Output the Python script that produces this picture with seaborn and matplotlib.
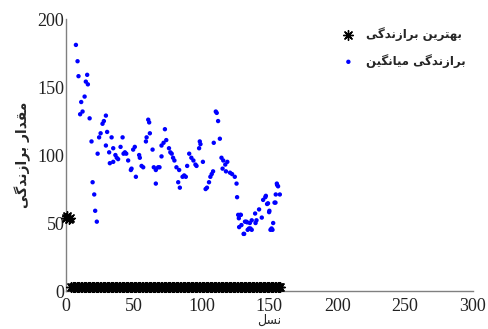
import numpy as np
import pandas as pd
import seaborn as sns
import matplotlib
matplotlib.use("Agg")
import matplotlib.pyplot as plt

# ---------------- data ----------------
avg_gen = [7.4, 8.6, 9.3, 10.5, 11.3, 12.3, 13.8, 14.7, 15.7, 16.2, 17.5, 18.9, 19.7, 20.9,
           21.6, 22.8, 23.4, 24.5, 25.6, 27, 28, 29.5, 29.5, 30.4, 31.9, 32.4, 33.7, 34.9,
           34.9, 36.5, 37.5, 38.5, 40.3, 41.8, 42.5, 43.5, 44.5, 45.9, 47.9, 48.4, 49.6,
           50.8, 51.6, 54, 54.5, 55.8, 57, 59, 59.5, 60.7, 61.4, 61.9, 63.9, 64.8, 66.3,
           66.3, 68, 69, 70.5, 70.5, 72, 73, 74, 76, 77, 78, 79, 80, 81.5, 83.5, 82.8, 84,
           86, 87.2, 88.4, 89.4, 90.9, 92.5, 94, 95.5, 96.3, 98.2, 98.7, 99.2, 101, 103,
           104, 105.5, 106.5, 107.5, 108.5, 109, 110.5, 111.2, 112.2, 113.5, 114.7, 116,
           117.5, 119, 115.5, 118, 121, 122.5, 124.5, 125.8, 126.2, 127, 127.5, 128.5, 129,
           127.7, 129.4, 131, 131.4, 132, 133, 133.6, 134, 135, 135.6, 136, 137, 137, 139.5,
           139.8, 140.5, 142.4, 144.4, 145.4, 147, 147.4, 148.3, 149, 149.8, 150, 150.8,
           151.6, 152.3, 152.8, 153.8, 154.5, 154.7, 155.5, 155.7, 156.4, 157.7]
avg_fit = [181, 169, 158, 130, 139, 132, 143, 154, 159, 152, 127, 110, 80, 71,
           59, 51, 101, 113, 116, 123, 125, 129, 107, 117, 102, 94, 113, 105,
           95, 100, 98, 97, 106, 113, 101, 102, 101, 96, 89, 90, 104,
           106, 84, 100, 98, 92, 91, 110, 113, 126, 124, 116, 104, 91, 89,
           79, 91, 91, 99, 107, 109, 119, 111, 105, 102, 101, 98, 96, 91, 89, 80, 76,
           84, 85, 84, 92, 101, 98, 96, 93, 92, 105, 110, 108, 95, 75,
           76, 80, 84, 86, 88, 109, 132, 131, 125, 112, 98, 96,
           93, 95, 90, 88, 87, 86, 84, 79, 69, 56, 53.5, 56, 56,
           47, 48.5, 42, 42, 51, 51, 50.5, 45, 46, 50, 46, 45, 52, 57,
           50, 52, 60, 54, 67, 69, 70, 64, 64.5, 58, 59, 45,
           46, 45, 50, 65, 65, 71, 79, 78, 77, 71]

best_gen_start = [0, 1, 2, 3]
best_fit_start = [54, 55, 53, 54]
best_gen_rest = list(range(4, 159))
best_fit_rest = [3] * len(best_gen_rest)

label_best = "بهترین برازندگی"
label_avg = "برازندگی میانگین"
ylabel_txt = "مقدار برازندگی"
xlabel_txt = "نسل"
xticks = [0, 50, 100, 150, 200, 250, 300]
yticks = [0, 50, 100, 150, 200]

# ---------------- minimal Persian shaping (matplotlib has no text shaping) ----------------
FORMS = {
    'ب': (0xFE8F, 0xFE90, 0xFE91, 0xFE92),
    'ت': (0xFE95, 0xFE96, 0xFE97, 0xFE98),
    'ه': (0xFEE9, 0xFEEA, 0xFEEB, 0xFEEC),
    'ن': (0xFEE5, 0xFEE6, 0xFEE7, 0xFEE8),
    'م': (0xFEE1, 0xFEE2, 0xFEE3, 0xFEE4),
    'ق': (0xFED5, 0xFED6, 0xFED7, 0xFED8),
    'س': (0xFEB1, 0xFEB2, 0xFEB3, 0xFEB4),
    'ل': (0xFEDD, 0xFEDE, 0xFEDF, 0xFEE0),
    'ی': (0xFBFC, 0xFBFD, 0xFBFE, 0xFBFF),
    'گ': (0xFB92, 0xFB93, 0xFB94, 0xFB95),
    'ا': (0xFE8D, 0xFE8E, 0xFE8D, 0xFE8E),
    'ر': (0xFEAD, 0xFEAE, 0xFEAD, 0xFEAE),
    'ز': (0xFEAF, 0xFEB0, 0xFEAF, 0xFEB0),
    'د': (0xFEA9, 0xFEAA, 0xFEA9, 0xFEAA),
}
RIGHT_ONLY = set('اردز')


def shape(text):
    out = []
    for i, c in enumerate(text):
        if c not in FORMS:
            out.append(c)
            continue
        prev = text[i - 1] if i > 0 else None
        nxt = text[i + 1] if i + 1 < len(text) else None
        jp = prev in FORMS and prev not in RIGHT_ONLY
        jn = nxt in FORMS and c not in RIGHT_ONLY
        iso, fin, ini, med = FORMS[c]
        f = med if (jp and jn) else fin if jp else ini if jn else iso
        out.append(chr(f))
    return ''.join(reversed(out))


# ---------------- plot ----------------
sns.set_style("white")
plt.rcParams['font.family'] = ['Liberation Serif', 'DejaVu Sans']

fig = plt.figure(figsize=(4.88, 3.29), dpi=100)
ax = fig.add_axes([0.135, 0.1155, 0.834, 0.8265])

df_avg = pd.DataFrame({"gen": avg_gen, "fit": avg_fit})
df_best = pd.DataFrame({"gen": best_gen_start + best_gen_rest,
                        "fit": best_fit_start + best_fit_rest})

star = (8, 2, 0)
sns.scatterplot(data=df_best, x="gen", y="fit", ax=ax, marker=star, s=50,
                color="black", linewidth=1.0, label=shape(label_best), clip_on=False,
                zorder=3)
sns.scatterplot(data=df_avg, x="gen", y="fit", ax=ax, marker="o", s=10,
                color="#0000ff", edgecolor="none", label=shape(label_avg), zorder=4)

ax.set_xlim(0, 300)
ax.set_ylim(0, 200)
ax.set_xticks(xticks)
ax.set_yticks(yticks)
ax.tick_params(direction="in", length=3, width=0.8, color="#707070",
               labelsize=13, labelcolor="#222222")
ax.tick_params(axis="x", pad=5)
ax.tick_params(axis="y", pad=1)
for side in ("top", "right"):
    ax.spines[side].set_visible(False)
for side in ("left", "bottom"):
    ax.spines[side].set_color("#808080")
    ax.spines[side].set_linewidth(1.0)

ax.set_xlabel(shape(xlabel_txt), family=['DejaVu Sans'], fontsize=9, labelpad=-1)
ax.set_ylabel(shape(ylabel_txt), family=['DejaVu Sans'], fontsize=10, fontweight="bold",
              labelpad=5)

leg = ax.legend(loc="upper left", bbox_to_anchor=(0.68, 0.95),
                bbox_transform=fig.transFigure, frameon=False,
                prop={'family': 'DejaVu Sans', 'size': 8.5, 'weight': 'bold'},
                handletextpad=1.0, labelspacing=1.1, markerscale=1.0,
                handlelength=1.0)

fig.savefig("out.png", dpi=100)
